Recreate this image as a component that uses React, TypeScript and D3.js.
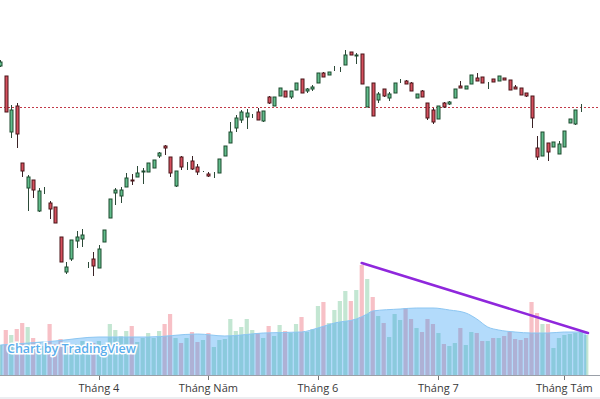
import React, { useEffect, useRef } from 'react';
import * as d3 from 'd3';

// daily OHLC (thousand VND), oldest first
const opens = [33.4, 32.4, 26.8, 29.4, 23.7, 21.2, 22.0, 18.9, 21.0, 19.7, 19.3, 16.3, 12.8, 14.1, 15.9, 16.1, 13.6, 14.1, 13.2, 15.8,
  18.2, 20.7, 20.4, 21.3, 22.0, 22.3, 22.8, 22.8, 23.2, 24.4, 25.4, 24.3, 21.4, 24.3, 23.7, 23.9, 23.3, 22.9, 22.6, 22.5,
  22.7, 24.4, 25.7, 27.2, 28.0, 28.3, 28.4, 28.8, 27.9, 30.3, 29.4, 30.4, 30.9, 30.3, 31.0, 32.1, 30.9, 31.1, 31.7, 32.7,
  32.5, 33.1, 33.2, 33.5, 34.8, 34.4, 34.6, 29.3, 31.7, 30.0, 31.1, 30.2, 30.7, 32.0, 31.9, 31.7, 30.2, 30.9, 29.7, 29.0,
  28.1, 29.7, 29.6, 30.2, 31.4, 31.1, 31.6, 32.2, 32.3, 31.8, 32.1, 31.9, 32.2, 32.0, 31.3, 31.2, 30.7, 30.4, 25.2, 24.4,
  25.7, 25.3, 24.6, 25.3, 27.7, 27.6, 29.3, 29.2];
const highs = [34.0, 32.4, 29.5, 29.7, 23.7, 22.5, 22.0, 21.2, 21.3, 19.9, 19.3, 16.3, 13.8, 16.0, 16.9, 17.1, 13.8, 14.8, 15.5, 17.0,
  20.1, 21.2, 21.3, 22.7, 22.6, 23.4, 23.2, 23.7, 24.0, 24.8, 25.5, 24.3, 22.9, 24.4, 23.8, 24.4, 23.6, 22.9, 22.8, 22.8,
  24.1, 25.4, 27.8, 28.5, 29.0, 29.1, 28.6, 29.2, 28.9, 30.4, 30.3, 31.2, 30.9, 30.9, 31.7, 32.1, 31.2, 31.5, 32.7, 32.8,
  32.8, 33.4, 33.3, 35.0, 34.8, 34.7, 34.6, 31.3, 31.7, 30.8, 31.1, 30.8, 31.7, 32.1, 32.0, 31.8, 30.6, 31.0, 29.7, 29.2,
  29.4, 29.8, 29.9, 31.1, 31.9, 31.4, 32.5, 32.7, 32.3, 31.8, 32.1, 32.4, 32.2, 32.0, 31.5, 31.2, 30.7, 30.4, 26.4, 26.8,
  25.7, 25.8, 25.9, 26.9, 28.1, 29.0, 29.6, 29.2];
const lows = [33.3, 28.8, 26.2, 25.2, 22.3, 18.9, 20.2, 18.8, 20.6, 18.1, 17.7, 13.8, 12.6, 13.9, 15.2, 15.3, 13.2, 12.4, 13.2, 15.8,
  18.2, 19.5, 19.7, 21.3, 21.5, 22.3, 21.6, 22.8, 23.2, 24.2, 24.5, 22.3, 21.3, 23.0, 23.0, 23.0, 22.5, 22.8, 22.3, 22.2,
  22.7, 24.4, 25.7, 26.8, 27.7, 27.1, 28.2, 28.0, 27.8, 29.6, 29.4, 30.4, 30.3, 30.1, 31.0, 30.7, 30.7, 30.9, 31.7, 32.3,
  32.5, 32.9, 32.8, 33.5, 34.5, 33.6, 31.6, 29.3, 28.4, 29.7, 30.3, 29.9, 30.7, 31.7, 31.6, 30.9, 30.2, 30.3, 28.0, 27.6,
  28.1, 29.2, 29.5, 30.2, 31.2, 31.1, 31.6, 31.9, 31.7, 31.1, 31.8, 31.9, 32.0, 31.0, 31.1, 30.5, 30.3, 27.2, 24.0, 24.4,
  23.9, 25.3, 24.6, 25.3, 27.7, 27.5, 28.8, 29.2];
const closes = [33.8, 28.8, 29.0, 26.6, 22.9, 22.3, 21.0, 20.9, 21.0, 19.1, 17.7, 13.8, 13.3, 16.0, 16.3, 16.5, 13.6, 13.4, 15.1, 17.0,
  20.1, 21.0, 21.0, 22.2, 21.9, 22.7, 22.9, 23.7, 24.0, 24.7, 25.2, 22.7, 22.9, 23.3, 23.7, 23.1, 22.8, 22.9, 22.4, 22.5,
  24.1, 25.4, 26.8, 28.2, 28.8, 28.7, 28.4, 28.0, 28.9, 29.7, 30.3, 31.2, 30.3, 30.9, 31.7, 30.7, 31.1, 31.3, 32.7, 32.3,
  32.8, 33.1, 33.2, 34.5, 34.5, 34.5, 31.6, 31.3, 28.4, 30.6, 30.4, 30.6, 31.7, 32.0, 31.6, 30.9, 30.6, 30.3, 28.2, 27.8,
  29.4, 29.3, 29.8, 31.1, 31.2, 31.4, 32.5, 31.9, 31.7, 31.8, 31.8, 32.4, 32.0, 31.0, 31.1, 30.5, 30.4, 28.2, 24.3, 26.8,
  24.8, 25.8, 25.6, 26.9, 28.1, 29.0, 29.3, 29.2];
// volume, million shares
const volumes = [3.0, 4.5, 4.0, 4.6, 5.2, 4.8, 3.7, 3.3, 2.9, 5.1, 3.1, 3.6, 3.3, 2.9, 3.1, 3.4, 2.9, 3.2, 3.4, 3.1,
  5.1, 4.5, 3.9, 4.4, 4.9, 3.3, 3.7, 4.2, 3.7, 4.4, 5.1, 6.1, 3.7, 3.2, 3.7, 4.3, 3.3, 3.5, 4.2, 2.8,
  3.5, 3.6, 5.6, 4.4, 4.8, 5.6, 4.5, 4.2, 3.7, 4.9, 3.9, 5.0, 4.4, 4.2, 5.1, 5.8, 4.3, 4.6, 6.9, 7.3,
  5.2, 6.5, 7.4, 8.4, 7.4, 8.5, 11.0, 9.6, 7.8, 5.9, 5.2, 3.8, 6.1, 5.5, 6.7, 5.6, 4.7, 4.3, 5.6, 5.1,
  4.2, 3.1, 2.9, 3.2, 4.7, 3.0, 4.3, 4.2, 3.4, 3.4, 3.7, 3.7, 3.9, 4.3, 3.6, 3.5, 3.7, 7.3, 6.2, 5.1,
  5.1, 2.7, 3.7, 4.0, 4.1, 4.2, 4.3, 4.0];
// volume moving average read at some bars
const maIndex = [0, 10, 18, 27, 36, 41, 48, 55, 58, 61, 65, 67, 68, 73, 76, 79, 82, 85, 87, 89, 91, 94, 97, 100, 103, 107];
const maValue = [3.0, 3.4, 3.8, 3.8, 4.1, 3.9, 4.2, 4.3, 4.7, 5.2, 5.6, 6.1, 6.4, 6.6, 6.7, 6.7, 6.5, 6.2, 5.6, 4.8, 4.5, 4.3, 4.2, 4.2, 4.3, 4.3];
// trend line drawn on the volume pane: [bar index, volume]
const trendLine = [[66, 11.2], [107.3, 4.2]];
const lastPrice = 29.3;
const monthTicks = [18, 38, 58, 80, 103];
const monthLabels = ['Tháng 4', 'Tháng Năm', 'Tháng 6', 'Tháng 7', 'Tháng Tám'];

const W = 600;
const H = 399;

const App = () => {
  const svgRef = useRef<SVGSVGElement>(null);

  useEffect(() => {
    document.body.style.margin = '0';
    const svg = d3.select(svgRef.current).attr('width', W).attr('height', H);
    svg.selectAll('*').remove();

    const n = closes.length;
    const x = d3.scaleLinear().domain([0, n - 1]).range([0.3, 586.3]);
    const y = d3.scaleLinear().domain([40, 0]).range([0, 400]);
    const vy = d3.scaleLinear().domain([0, 11]).range([375, 265]);

    svg.append('rect').attr('width', W).attr('height', H).attr('fill', '#fff');

    // volume bars
    const idx = d3.range(n);
    svg.append('g')
      .selectAll('rect')
      .data(idx)
      .join('rect')
      .attr('x', i => x(i) - 2.1)
      .attr('width', 4.2)
      .attr('y', i => vy(volumes[i]))
      .attr('height', i => vy(0) - vy(volumes[i]))
      .attr('fill', i => (closes[i] >= opens[i] ? '#c3e6d2' : '#f7c0c6'));

    // volume MA area
    const ma = maIndex.map((i, k) => ({ i, v: maValue[k] }));
    const area = d3.area<{ i: number; v: number }>()
      .x(d => x(d.i))
      .y0(vy(0))
      .y1(d => vy(d.v))
      .curve(d3.curveMonotoneX);
    svg.append('path')
      .datum(ma)
      .attr('d', area)
      .attr('fill', 'rgba(33,150,243,0.34)');
    svg.append('path')
      .datum(ma)
      .attr('d', d3.line<{ i: number; v: number }>().x(d => x(d.i)).y(d => vy(d.v)).curve(d3.curveMonotoneX))
      .attr('fill', 'none')
      .attr('stroke', '#8cc6f2')
      .attr('stroke-width', 1);

    // trend line
    svg.append('line')
      .attr('x1', x(trendLine[0][0]))
      .attr('y1', vy(trendLine[0][1]))
      .attr('x2', x(trendLine[1][0]))
      .attr('y2', vy(trendLine[1][1]))
      .attr('stroke', '#8f27dc')
      .attr('stroke-width', 2.6)
      .attr('stroke-linecap', 'round');

    // last price line
    svg.append('line')
      .attr('x1', 0)
      .attr('x2', W)
      .attr('y1', Math.round(y(lastPrice)) + 0.5)
      .attr('y2', Math.round(y(lastPrice)) + 0.5)
      .attr('stroke', '#c23a48')
      .attr('stroke-width', 1)
      .attr('stroke-dasharray', '2,2');

    // candles
    const up = (i: number) => closes[i] >= opens[i];
    const candles = svg.append('g');
    candles.selectAll('line')
      .data(idx)
      .join('line')
      .attr('x1', i => Math.round(x(i)) + 0.5)
      .attr('x2', i => Math.round(x(i)) + 0.5)
      .attr('y1', i => y(highs[i]))
      .attr('y2', i => y(lows[i]))
      .attr('stroke', i => (up(i) ? '#2c4a38' : '#3a2226'))
      .attr('stroke-width', 1);
    candles.selectAll('rect')
      .data(idx)
      .join('rect')
      .attr('x', i => Math.round(x(i)) - 1)
      .attr('width', 3)
      .attr('y', i => y(Math.max(opens[i], closes[i])))
      .attr('height', i => Math.abs(y(opens[i]) - y(closes[i])))
      .attr('fill', i => (up(i) ? '#62bd8c' : '#d6505e'))
      .attr('stroke', i => (up(i) ? '#1c4a2e' : '#4a1519'))
      .attr('stroke-width', 1);

    // x axis
    svg.append('line')
      .attr('x1', 0).attr('x2', W)
      .attr('y1', 375.5).attr('y2', 375.5)
      .attr('stroke', '#9aa0a8');
    const ax = svg.append('g');
    ax.selectAll('line')
      .data(monthTicks)
      .join('line')
      .attr('x1', i => Math.round(x(i)) + 0.5)
      .attr('x2', i => Math.round(x(i)) + 0.5)
      .attr('y1', 376)
      .attr('y2', 380)
      .attr('stroke', '#777');
    ax.selectAll('text')
      .data(monthTicks)
      .join('text')
      .attr('x', i => x(i))
      .attr('y', 392)
      .attr('text-anchor', 'middle')
      .style('font-family', 'Open Sans, sans-serif')
      .style('font-size', '11px')
      .style('fill', '#3a3a3a')
      .text((_, k) => monthLabels[k]);

    svg.append('rect')
      .attr('x', 0).attr('y', 397).attr('width', W).attr('height', 2)
      .attr('fill', '#eceef1');

    // watermark
    svg.append('text')
      .attr('x', 7)
      .attr('y', 353)
      .style('font-family', 'Open Sans, sans-serif')
      .style('font-size', '12.5px')
      .style('font-weight', '600')
      .style('fill', '#5aaeec')
      .style('stroke', '#fff')
      .style('stroke-width', '3px')
      .style('paint-order', 'stroke')
      .text('Chart by TradingView');
  }, []);

  return <svg ref={svgRef} style={{ display: 'block' }}></svg>;
};

export default App;
